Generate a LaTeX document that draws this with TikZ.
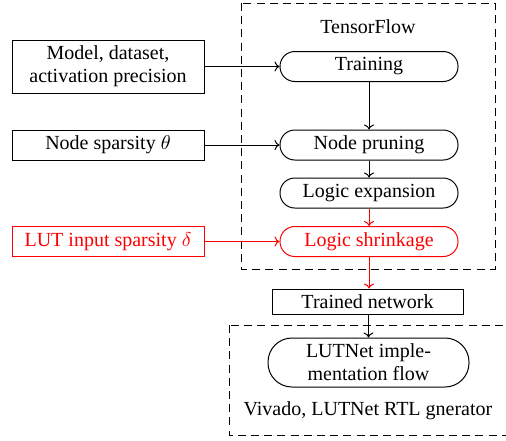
\documentclass[tikz,border=0pt]{standalone}
\usepackage{fontspec}
\setmainfont{Liberation Serif}
\usetikzlibrary{arrows.meta}
\begin{document}
\begin{tikzpicture}[x=0.5pt,y=-0.5pt,
  every node/.style={font=\fontsize{10}{11.5}\selectfont, inner sep=0pt, align=center},
  lbox/.style={draw, line width=0.5pt, minimum width=96pt, minimum height=15pt},
  pill/.style={draw, line width=0.5pt, minimum width=89pt, minimum height=15pt, rounded corners=7.4pt},
  frame/.style={draw, line width=0.5pt, dash pattern=on 4pt off 2.6pt},
  conn/.style={line width=0.5pt, -{To[length=2.5pt,width=5pt]}},
  redc/.style={red, draw=red}
]
\useasboundingbox (0,0) rectangle (506,440);
% frames
\draw[frame] (241,3) rectangle (495,269);
\draw[frame] (229,325) rectangle (520,435);
\node (tf) at (368,27) {TensorFlow};
\node (viv) at (368,411) {Vivado, LUTNet RTL gnerator};
% main flow
\node[pill] (train) at (369,66.5) {Training};
\node[pill] (prune) at (369,145) {Node pruning};
\node[pill] (expand) at (369,193) {Logic expansion};
\node[pill, redc] (shrink) at (369,241.5) {Logic shrinkage};
\node[lbox, minimum width=95.5pt, minimum height=12.5pt] (trained) at (367.5,301.5) {Trained network};
\node[pill, minimum width=100.5pt, minimum height=24.5pt, rounded corners=12pt] (lutnet) at (368.5,362.5) {LUTNet imple-\\mentation flow};
% inputs
\node[lbox, minimum height=26.5pt] (model) at (108,66.5) {Model, dataset,\\activation precision};
\node[lbox] (nsp) at (108,145) {Node sparsity $\theta$};
\node[lbox, redc] (lut) at (108,241.5) {LUT input sparsity $\delta$};
% connectors
\draw[conn] (model) -- (train);
\draw[conn] (nsp) -- (prune);
\draw[conn, red] (lut) -- (shrink);
\draw[conn] (train) -- (prune);
\draw[conn] (prune) -- (expand);
\draw[conn, red] (expand) -- (shrink);
\draw[conn, red] (shrink.south) -- (shrink.south |- trained.north);
\draw[conn] (trained.south -| lutnet.north) -- (lutnet.north);
\end{tikzpicture}
\end{document}
